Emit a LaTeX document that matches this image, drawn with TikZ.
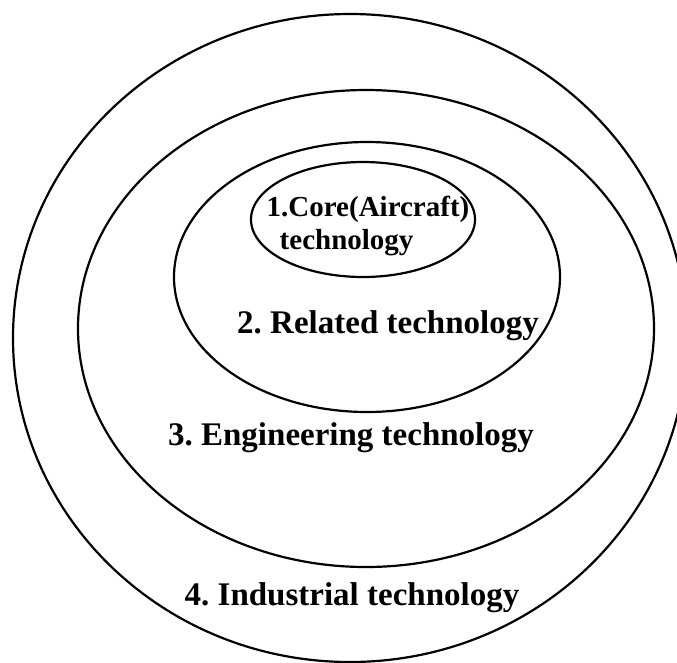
\documentclass[tikz,border=0pt]{standalone}
\usepackage{fontspec}
\setmainfont{Liberation Serif}
\usetikzlibrary{positioning}

\tikzset{
  ring/.style={draw, line width=2.2pt},
  layer/.style={font=\bfseries\frenchspacing\fontsize{33}{36}\selectfont, inner sep=0pt},
  core/.style={font=\bfseries\frenchspacing\fontsize{29}{33}\selectfont, inner sep=0pt, align=left}
}

\begin{document}
\begin{tikzpicture}[x=1pt, y=-1pt]

    \useasboundingbox (0,0) rectangle (677,662);

    % Draw the four nested technology levels
    \draw[ring] (350,338) ellipse [x radius=337, y radius=324];
    \draw[ring] (366,328.5) ellipse [x radius=288, y radius=238.5];
    \draw[ring] (367,277) ellipse [x radius=193, y radius=135];
    \draw[ring] (363,219.5) ellipse [x radius=112, y radius=57.5];

    % Label the levels
    \node[core] (core) at (368,226) {1.Core(Aircraft)\\\hspace{0.45em}technology};
    \node[layer] (related) at (388,326) {2. Related technology};
    \node[layer] (engineering) at (351,438) {3. Engineering technology};
    \node[layer] (industrial) at (352,598) {4. Industrial technology};

\end{tikzpicture}
\end{document}
